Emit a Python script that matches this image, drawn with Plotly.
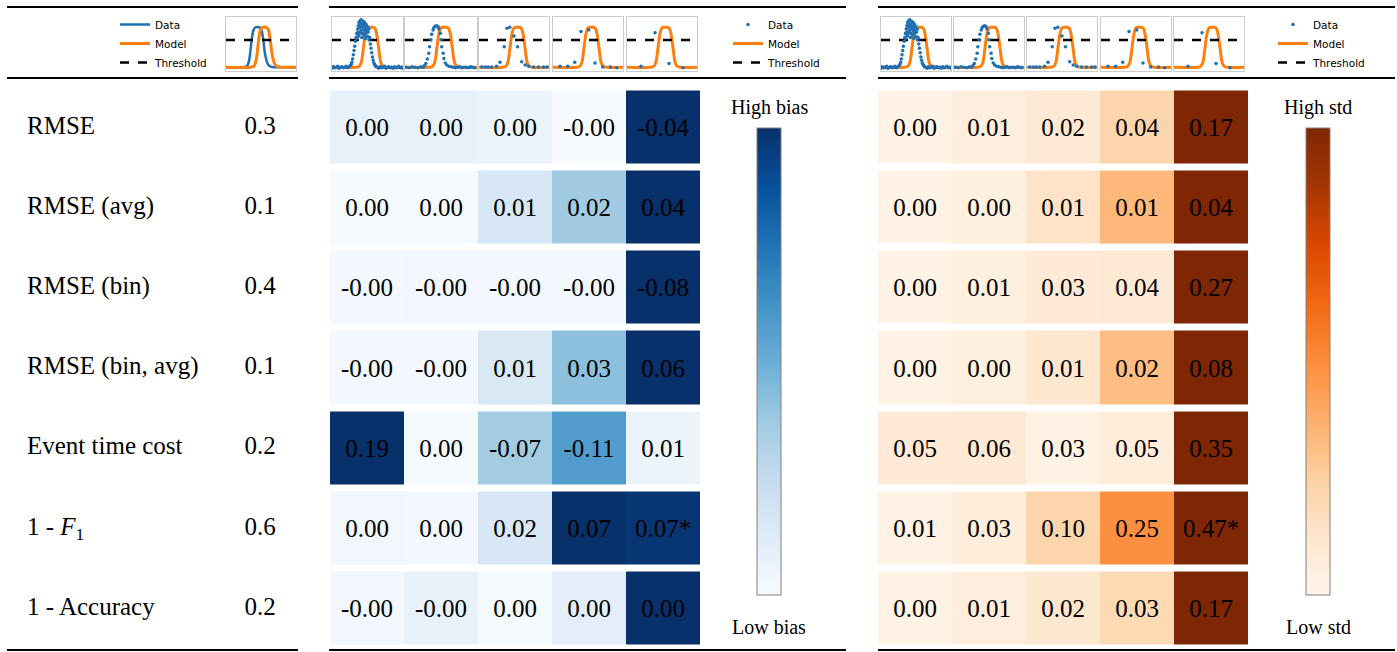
import plotly.graph_objects as go
from plotly.colors import sequential

W, H = 1397, 652

# ---------------- data ----------------
metrics = ["RMSE", "RMSE (avg)", "RMSE (bin)", "RMSE (bin, avg)",
           "Event time cost", "1 - <i>F</i><sub>1</sub>", "1 - Accuracy"]
weights = ["0.3", "0.1", "0.4", "0.1", "0.2", "0.6", "0.2"]

bias_text = [
    ["0.00", "0.00", "0.00", "-0.00", "-0.04"],
    ["0.00", "0.00", "0.01", "0.02", "0.04"],
    ["-0.00", "-0.00", "-0.00", "-0.00", "-0.08"],
    ["-0.00", "-0.00", "0.01", "0.03", "0.06"],
    ["0.19", "0.00", "-0.07", "-0.11", "0.01"],
    ["0.00", "0.00", "0.02", "0.07", "0.07*"],
    ["-0.00", "-0.00", "0.00", "0.00", "0.00"],
]
# relative (row-normalised) colour level of each bias cell
bias_level = [
    [0.08, 0.08, 0.06, 0.00, 1.00],
    [0.01, 0.01, 0.16, 0.37, 1.00],
    [0.02, 0.03, 0.02, 0.02, 1.00],
    [0.02, 0.02, 0.15, 0.42, 1.00],
    [1.00, 0.01, 0.36, 0.58, 0.06],
    [0.03, 0.02, 0.16, 1.00, 0.98],
    [0.03, 0.08, 0.01, 0.10, 1.00],
]

std_text = [
    ["0.00", "0.01", "0.02", "0.04", "0.17"],
    ["0.00", "0.00", "0.01", "0.01", "0.04"],
    ["0.00", "0.01", "0.03", "0.04", "0.27"],
    ["0.00", "0.00", "0.01", "0.02", "0.08"],
    ["0.05", "0.06", "0.03", "0.05", "0.35"],
    ["0.01", "0.03", "0.10", "0.25", "0.47*"],
    ["0.00", "0.01", "0.02", "0.03", "0.17"],
]
std_level = [
    [0.02, 0.06, 0.10, 0.22, 1.00],
    [0.02, 0.05, 0.14, 0.34, 1.00],
    [0.02, 0.05, 0.09, 0.10, 1.00],
    [0.02, 0.05, 0.12, 0.32, 1.00],
    [0.09, 0.10, 0.02, 0.07, 1.00],
    [0.03, 0.07, 0.22, 0.49, 1.00],
    [0.02, 0.06, 0.12, 0.20, 1.00],
]

threshold = 0.575

# legend illustration (left)
legend_data_x = [0, 0.25, 0.30, 0.33, 0.36, 0.39, 0.42, 0.47, 0.50, 0.53, 0.56, 0.60, 0.64, 0.70, 1.0]
legend_data_y = [0.07, 0.07, 0.09, 0.20, 0.50, 0.75, 0.81, 0.81, 0.78, 0.60, 0.30, 0.12, 0.08, 0.07, 0.07]
legend_model_x = [0, 0.35, 0.40, 0.43, 0.46, 0.49, 0.52, 0.57, 0.60, 0.63, 0.66, 0.70, 0.74, 0.80, 1.0]
legend_model_y = [0.07, 0.07, 0.09, 0.20, 0.50, 0.75, 0.81, 0.81, 0.78, 0.60, 0.30, 0.12, 0.08, 0.07, 0.07]

# model curve in the resolution thumbnails
model_x = [0, 0.33, 0.38, 0.41, 0.44, 0.47, 0.50, 0.55, 0.60, 0.63, 0.66, 0.69, 0.72, 0.77, 1.0]
model_y = [0.07, 0.07, 0.085, 0.15, 0.40, 0.68, 0.80, 0.81, 0.80, 0.68, 0.40, 0.15, 0.085, 0.07, 0.07]

# data points of the five thumbnails (coarser resolution from left to right)
thumb1_x = [0.00, 0.02, 0.04, 0.06, 0.08, 0.10, 0.12, 0.14, 0.16, 0.18, 0.20, 0.22, 0.24, 0.26,
            0.27, 0.28, 0.29, 0.30, 0.31, 0.32, 0.33, 0.34, 0.35, 0.35, 0.36, 0.36,
            0.37, 0.37, 0.38, 0.38, 0.39, 0.39, 0.40, 0.40, 0.41, 0.41, 0.42, 0.42, 0.43, 0.43,
            0.44, 0.44, 0.45, 0.45, 0.46, 0.46, 0.47, 0.47, 0.48, 0.48, 0.49, 0.50, 0.50, 0.51,
            0.52, 0.52, 0.53, 0.54, 0.55, 0.56, 0.57, 0.58, 0.59, 0.60, 0.61, 0.62,
            0.64, 0.66, 0.68, 0.70, 0.72, 0.74, 0.76, 0.78, 0.80, 0.82, 0.84, 0.86, 0.88, 0.90,
            0.92, 0.94, 0.96, 0.98, 1.00]
thumb1_y = [0.05, 0.08, 0.06, 0.07, 0.09, 0.05, 0.07, 0.08, 0.06, 0.07, 0.09, 0.06, 0.08, 0.10,
            0.12, 0.16, 0.22, 0.30, 0.38, 0.46, 0.55, 0.62, 0.70, 0.60, 0.78, 0.68,
            0.84, 0.72, 0.90, 0.65, 0.80, 0.92, 0.70, 0.86, 0.95, 0.75, 0.82, 0.62, 0.88, 0.70,
            0.78, 0.92, 0.66, 0.84, 0.74, 0.90, 0.80, 0.60, 0.86, 0.70, 0.76, 0.82, 0.64, 0.72,
            0.78, 0.58, 0.62, 0.50, 0.42, 0.34, 0.26, 0.20, 0.15, 0.12, 0.10, 0.08,
            0.07, 0.05, 0.08, 0.06, 0.07, 0.09, 0.05, 0.07, 0.08, 0.06, 0.07, 0.05, 0.08, 0.06,
            0.07, 0.09, 0.06, 0.07, 0.05]
thumb2_x = [0.02, 0.06, 0.10, 0.14, 0.18, 0.22, 0.25, 0.27, 0.29, 0.31, 0.33, 0.34, 0.36, 0.37,
            0.39, 0.40, 0.42, 0.44, 0.46, 0.47, 0.49, 0.50, 0.51, 0.53, 0.54, 0.56, 0.58, 0.61,
            0.64, 0.67, 0.70, 0.73, 0.76, 0.79, 0.82, 0.85, 0.88, 0.91, 0.94, 0.97]
thumb2_y = [0.07, 0.06, 0.08, 0.07, 0.06, 0.08, 0.07, 0.10, 0.14, 0.22, 0.33, 0.45, 0.58, 0.68,
            0.76, 0.80, 0.83, 0.84, 0.82, 0.78, 0.70, 0.58, 0.45, 0.33, 0.23, 0.15, 0.11, 0.09,
            0.08, 0.07, 0.06, 0.07, 0.08, 0.06, 0.07, 0.07, 0.06, 0.08, 0.07, 0.06]
thumb3_x = [0.04, 0.09, 0.13, 0.18, 0.25, 0.30, 0.36, 0.40, 0.44, 0.50, 0.55, 0.61, 0.66, 0.71,
            0.78, 0.85, 0.92, 0.97]
thumb3_y = [0.075, 0.075, 0.075, 0.075, 0.09, 0.16, 0.45, 0.79, 0.81, 0.65, 0.45, 0.17, 0.11, 0.09,
            0.075, 0.075, 0.075, 0.075]
thumb4_x = [0.10, 0.21, 0.31, 0.40, 0.51, 0.60, 0.71, 0.82, 0.91]
thumb4_y = [0.09, 0.09, 0.16, 0.73, 0.76, 0.15, 0.075, 0.075, 0.06]
thumb5_x = [0.20, 0.40, 0.60, 0.80]
thumb5_y = [0.09, 0.71, 0.14, 0.06]

thumbs_x = [thumb1_x, thumb2_x, thumb3_x, thumb4_x, thumb5_x]
thumbs_y = [thumb1_y, thumb2_y, thumb3_y, thumb4_y, thumb5_y]

# ---------------- styling ----------------
BLUE = "#1f6fb4"
ORANGE = "#ff7f0e"
SERIF = "Liberation Serif"
SANS = "DejaVu Sans"
CELL_FONT = dict(family=SERIF, size=25, color="black")
LABEL_FONT = dict(family=SERIF, size=25, color="black")


def fx(p):
    return p / W


def fy(p):
    return 1 - p / H


fig = go.Figure()
rows = list(range(len(metrics)))
cols = list(range(5))

cb_common = dict(thicknessmode="pixels", thickness=24, lenmode="pixels", len=467,
                 xanchor="left", yanchor="top", y=fy(128), xpad=0, ypad=0,
                 outlinewidth=1, outlinecolor="#808080", ticks="", showticklabels=False)

fig.add_trace(go.Heatmap(
    z=bias_level, x=cols, y=rows, text=bias_text, texttemplate="%{text}",
    textfont=CELL_FONT, colorscale=sequential.Blues, zmin=0, zmax=1, ygap=7,
    xaxis="x", yaxis="y", hoverinfo="skip",
    colorbar=dict(x=fx(757), **cb_common)))

fig.add_trace(go.Heatmap(
    z=std_level, x=cols, y=rows, text=std_text, texttemplate="%{text}",
    textfont=CELL_FONT, colorscale=sequential.Oranges, zmin=0, zmax=1, ygap=7,
    xaxis="x2", yaxis="y", hoverinfo="skip",
    colorbar=dict(x=fx(1306), **cb_common)))

# left table
fig.add_trace(go.Scatter(x=[27] * len(metrics), y=rows, text=metrics, mode="text",
                         textposition="middle right", textfont=LABEL_FONT,
                         xaxis="x3", yaxis="y", showlegend=False, hoverinfo="skip"))
fig.add_trace(go.Scatter(x=[260] * len(weights), y=rows, text=weights, mode="text",
                         textposition="middle center", textfont=LABEL_FONT,
                         xaxis="x3", yaxis="y", showlegend=False, hoverinfo="skip"))

layout_axes = {}
layout_axes["xaxis"] = dict(domain=[fx(330), fx(700)], range=[-0.5, 4.5], visible=False, anchor="y")
layout_axes["yaxis"] = dict(domain=[fy(648.5), fy(87.5)], range=[6.5, -0.5], visible=False, anchor="x")
layout_axes["xaxis2"] = dict(domain=[fx(878), fx(1248)], range=[-0.5, 4.5], visible=False, anchor="y")
layout_axes["xaxis3"] = dict(domain=[0, fx(300)], range=[0, 300], visible=False, anchor="y")

thumb_style = dict(range=[0, 1], showline=True, mirror=True, linecolor="#cccccc", linewidth=1,
                   showticklabels=False, ticks="", showgrid=False, zeroline=False, fixedrange=True)

left_box = (226, 296)
mid_boxes = [(332, 403), (405, 477), (479, 549), (553, 623), (627, 697)]
right_boxes = [(881, 951), (954, 1024), (1027, 1097), (1101, 1171), (1174, 1244)]
TY0, TY1 = 17, 71

ax_n = [3]


def new_axes(box):
    ax_n[0] += 1
    xi = ax_n[0]
    yi = xi - 2
    layout_axes[f"xaxis{xi}"] = dict(domain=[fx(box[0]), fx(box[1])], anchor=f"y{yi}", **thumb_style)
    layout_axes[f"yaxis{yi}"] = dict(domain=[fy(TY1), fy(TY0)], anchor=f"x{xi}", **thumb_style)
    return f"x{xi}", f"y{yi}"


# left legend thumbnail
xa, ya = new_axes(left_box)
fig.add_trace(go.Scatter(x=legend_data_x, y=legend_data_y, mode="lines", line=dict(color=BLUE, width=2.5, shape="spline"),
                         name="Data", legend="legend", xaxis=xa, yaxis=ya, hoverinfo="skip"))
fig.add_trace(go.Scatter(x=legend_model_x, y=legend_model_y, mode="lines", line=dict(color=ORANGE, width=3, shape="spline"),
                         name="Model", legend="legend", xaxis=xa, yaxis=ya, hoverinfo="skip"))
fig.add_trace(go.Scatter(x=[0, 1], y=[threshold, threshold], mode="lines", line=dict(color="black", width=2.5, dash="dash"),
                         name="Threshold", legend="legend", xaxis=xa, yaxis=ya, hoverinfo="skip"))

for boxes, lg in ((mid_boxes, "legend2"), (right_boxes, "legend3")):
    for k, box in enumerate(boxes):
        xa, ya = new_axes(box)
        first = (k == len(boxes) - 1)
        fig.add_trace(go.Scatter(x=model_x, y=model_y, mode="lines",
                                 line=dict(color=ORANGE, width=3, shape="spline"),
                                 name="Model", legend=lg, showlegend=first, legendrank=2,
                                 xaxis=xa, yaxis=ya, hoverinfo="skip"))
        fig.add_trace(go.Scatter(x=[0, 1], y=[threshold, threshold], mode="lines",
                                 line=dict(color="black", width=2.5, dash="dash"),
                                 name="Threshold", legend=lg, showlegend=first, legendrank=3,
                                 xaxis=xa, yaxis=ya, hoverinfo="skip"))
        fig.add_trace(go.Scatter(x=thumbs_x[k], y=thumbs_y[k], mode="markers",
                                 marker=dict(color=BLUE, size=3.5),
                                 name="Data", legend=lg, showlegend=first, legendrank=1,
                                 xaxis=xa, yaxis=ya, hoverinfo="skip"))

# rules
shapes = []
for x0, x1 in ((7, 298), (329, 846), (878, 1395)):
    for yy in (7, 78, 650):
        shapes.append(dict(type="line", xref="paper", yref="paper", x0=fx(x0), x1=fx(x1),
                           y0=fy(yy), y1=fy(yy), line=dict(color="black", width=2)))

annotations = []
for txt, xc, yc in (("High bias", 769, 107), ("Low bias", 769, 627),
                    ("High std", 1318, 107), ("Low std", 1318, 627)):
    annotations.append(dict(text=txt, x=fx(xc), y=fy(yc), xref="paper", yref="paper",
                            showarrow=False, xanchor="center", yanchor="middle",
                            font=dict(family=SERIF, size=20, color="black")))

leg_common = dict(xanchor="left", yanchor="top", font=dict(family=SANS, size=10.5, color="black"),
                  bgcolor="rgba(0,0,0,0)", borderwidth=0, tracegroupgap=0, itemclick=False)

fig.update_layout(
    width=W, height=H, margin=dict(l=0, r=0, t=0, b=0),
    paper_bgcolor="white", plot_bgcolor="white",
    shapes=shapes, annotations=annotations,
    legend=dict(x=fx(115), y=fy(10), **leg_common),
    legend2=dict(x=fx(728), y=fy(10), **leg_common),
    legend3=dict(x=fx(1273), y=fy(10), **leg_common),
    **layout_axes,
)

fig.write_html("out.html")
